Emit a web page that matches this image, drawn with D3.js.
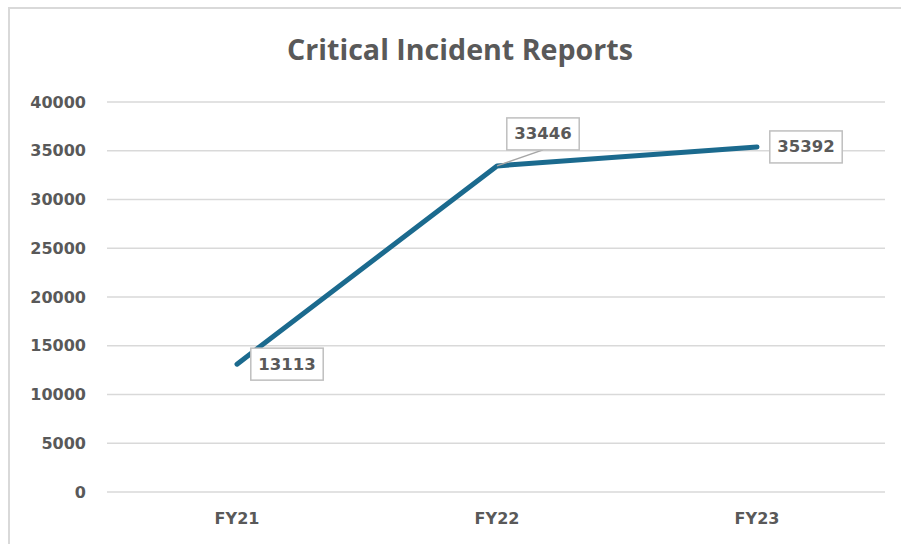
<!DOCTYPE html>
<html>
<head>
<meta charset="utf-8">
<script src="https://cdn.jsdelivr.net/npm/d3@7"></script>
<style>
  html, body { margin: 0; padding: 0; background: #ffffff; }
  svg { display: block; }
</style>
</head>
<body>
<div id="chart"></div>
<script>
// ---- data ----
const categories = ["FY21", "FY22", "FY23"];
const reports = [13113, 33446, 35392];
const yTicks = [0, 5000, 10000, 15000, 20000, 25000, 30000, 35000, 40000];
const titleText = "Critical Incident Reports";

// ---- layout / style (not data) ----
const W = 901, H = 544;
const plot = { left: 107, right: 887, top: 102, bottom: 492 };
const labelOffsets = [[50, 0], [46, -32], [49, 0]]; // label box centre relative to point
const grey = "#595959";
const gridColor = "#d9d9d9";
const lineColor = "#1b6a8e";
const font = "'DejaVu Sans', sans-serif";

const svg = d3.select("#chart").append("svg")
  .attr("width", W).attr("height", H);

// chart frame
svg.append("rect")
  .attr("x", 9).attr("y", 8)
  .attr("width", W + 20).attr("height", H + 20)
  .attr("fill", "#fff")
  .attr("stroke", gridColor).attr("stroke-width", 2);

// title
const title = svg.append("text")
  .attr("x", 460).attr("y", 60)
  .attr("text-anchor", "middle")
  .attr("font-family", "'Open Sans', sans-serif")
  .attr("font-weight", 700)
  .attr("font-size", 27)
  .attr("fill", grey)
  .text(titleText);
const tw = title.node().getComputedTextLength();
title.attr("font-size", 27 * 346 / tw);

const x = d3.scaleBand().domain(categories).range([plot.left, plot.right]).padding(0);
const y = d3.scaleLinear().domain([0, 40000]).range([plot.bottom, plot.top]);

// gridlines
svg.append("g")
  .selectAll("line").data(yTicks).join("line")
  .attr("x1", plot.left).attr("x2", plot.right - 2)
  .attr("y1", d => y(d)).attr("y2", d => y(d))
  .attr("stroke", gridColor).attr("stroke-width", 1.5);

// y axis labels
const yAxis = d3.axisLeft(y).tickValues(yTicks).tickSize(0).tickPadding(0).tickFormat(d3.format("d"));
const yg = svg.append("g").attr("transform", `translate(86,0)`).call(yAxis);
yg.select(".domain").remove();
yg.selectAll("text")
  .attr("font-family", font).attr("font-weight", "bold").attr("font-size", 16)
  .attr("fill", grey);

// x axis labels
const xAxis = d3.axisBottom(x).tickSize(0).tickPadding(0);
const xg = svg.append("g").attr("transform", `translate(0,${plot.bottom + 21})`).call(xAxis);
xg.select(".domain").remove();
xg.selectAll("text")
  .attr("font-family", font).attr("font-weight", "bold").attr("font-size", 16)
  .attr("fill", grey);

// line
const pts = categories.map((c, i) => [x(c) + x.bandwidth() / 2, y(reports[i])]);
svg.append("path")
  .datum(reports)
  .attr("d", d3.line().x((d, i) => x(categories[i]) + x.bandwidth() / 2).y(d => y(d)))
  .attr("fill", "none")
  .attr("stroke", lineColor)
  .attr("stroke-width", 5)
  .attr("stroke-linecap", "round")
  .attr("stroke-linejoin", "round");

// data labels
const lg = svg.append("g");
reports.forEach((v, i) => {
  const [px, py] = pts[i];
  const cx = px + labelOffsets[i][0], cy = py + labelOffsets[i][1];
  const g = lg.append("g");
  const t = g.append("text")
    .attr("x", cx).attr("y", cy)
    .attr("text-anchor", "middle").attr("dominant-baseline", "central")
    .attr("font-family", font).attr("font-weight", "bold").attr("font-size", 16.5)
    .attr("fill", grey)
    .text(d3.format("d")(v));
  const w = t.node().getComputedTextLength() + 15, h = 32;
  if (labelOffsets[i][1] !== 0) {
    g.insert("line", "text")
      .attr("x1", px).attr("y1", py)
      .attr("x2", cx).attr("y2", cy + h / 2)
      .attr("stroke", "#a6a6a6").attr("stroke-width", 1.5);
  }
  g.insert("rect", "text")
    .attr("x", cx - w / 2).attr("y", cy - h / 2)
    .attr("width", w).attr("height", h)
    .attr("fill", "#fff")
    .attr("stroke", "#bfbfbf").attr("stroke-width", 1.5);
});
</script>
</body>
</html>
